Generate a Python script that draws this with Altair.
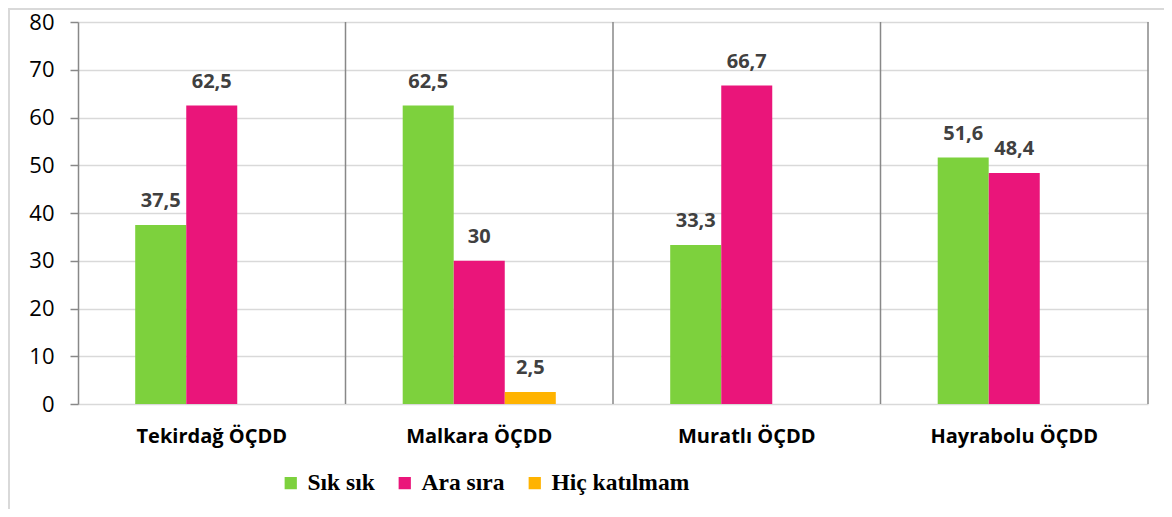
import altair as alt
import pandas as pd

categories = ["Tekirdağ ÖÇDD", "Malkara ÖÇDD", "Muratlı ÖÇDD", "Hayrabolu ÖÇDD"]
series = ["Sık sık", "Ara sıra", "Hiç katılmam"]
sik_sik = [37.5, 62.5, 33.3, 51.6]
ara_sira = [62.5, 30.0, 66.7, 48.4]
hic_katilmam = [None, 2.5, None, None]
colors = ["#7dd13d", "#ea157a", "#ffb300"]

rows = []
for s, vals in zip(series, [sik_sik, ara_sira, hic_katilmam]):
    for c, v in zip(categories, vals):
        if v is None:
            continue
        lab = (f"{v:g}").replace(".", ",")
        rows.append({"cat": c, "series": s, "value": v, "label": lab})
df = pd.DataFrame(rows)
sep_df = pd.DataFrame({"cat": categories})

W, H = 1070, 382

x_enc = alt.X("cat:N", sort=categories, title=None,
              scale=alt.Scale(paddingInner=0, paddingOuter=0),
              axis=alt.Axis(labelFont="Open Sans", labelFontWeight="bold", labelFontSize=20,
                            labelColor="#000000", labelPadding=32, ticks=False, domain=False,
                            labelAngle=0, labelAlign="center", bandPosition=0.5))
off_domain = ["_pad_a"] + series + ["_pad_b"]
xoff = alt.XOffset("series:N",
                   scale=alt.Scale(domain=off_domain, paddingInner=0, paddingOuter=0.12))

bars = alt.Chart(df).mark_bar(size=51).encode(
    x=x_enc,
    xOffset=xoff,
    y=alt.Y("value:Q", title=None,
            scale=alt.Scale(domain=[0, 80], nice=False),
            axis=alt.Axis(values=list(range(0, 81, 10)), gridColor="#d9d9d9", gridWidth=1.5,
                          domainColor="#888888", domainWidth=1.5, tickColor="#888888",
                          tickSize=8, tickWidth=1.5,
                          labelFont="Open Sans", labelFontSize=22, labelColor="#000000",
                          labelPadding=16)),
    color=alt.Color("series:N", sort=series,
                    scale=alt.Scale(domain=series, range=colors),
                    legend=alt.Legend(title=None, orient="none", direction="horizontal",
                                      legendX=201, legendY=449,
                                      symbolType="square", symbolSize=150,
                                      symbolStrokeWidth=0, symbolOpacity=1,
                                      labelFont="Liberation Serif", labelFontWeight="bold",
                                      labelFontSize=23.5, labelColor="#000000",
                                      labelOffset=5, columnPadding=18)),
)

labels = alt.Chart(df).mark_text(font="Open Sans", fontWeight="bold", fontSize=20,
                                 color="#404040", dy=-24).encode(
    x=alt.X("cat:N", sort=categories),
    xOffset=xoff,
    y=alt.Y("value:Q"),
    text="label:N",
)

seps = alt.Chart(sep_df).mark_rule(color="#888888", strokeWidth=1.5).encode(
    x=alt.X("cat:N", sort=categories, bandPosition=1),
    y=alt.value(0),
    y2=alt.value(H),
)

border = alt.Chart(sep_df).mark_rect(fill=None, stroke="#d9d9d9", strokeWidth=2).encode(
    x=alt.value(-69), x2=alt.value(W + 93),
    y=alt.value(-13), y2=alt.value(H + 140),
)

chart = alt.layer(border, seps, bars, labels).properties(
    width=W, height=H,
    autosize=alt.AutoSizeParams(type="none"),
    padding={"left": 70, "top": 14, "right": 16, "bottom": 105},
).configure_view(stroke=None).configure_axis(grid=True).configure_axisX(grid=False)

chart.save("out.html", embed_options={"renderer": "svg", "actions": False})
